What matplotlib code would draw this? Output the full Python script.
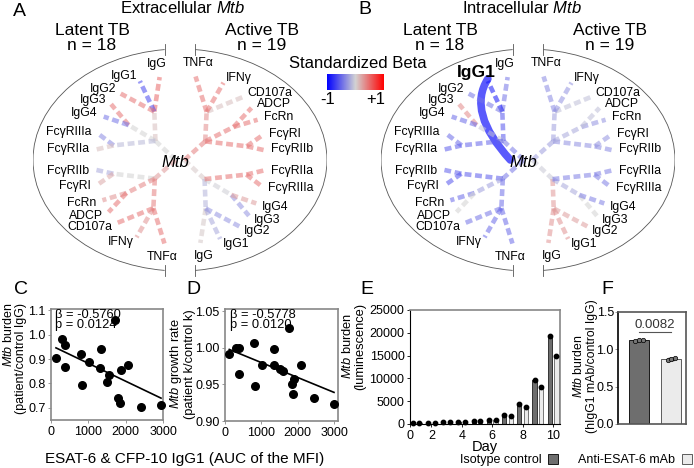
import numpy as np
import matplotlib
matplotlib.use('Agg')
import matplotlib.pyplot as plt
from matplotlib.colors import LinearSegmentedColormap
from matplotlib.patches import Arc, Patch, PathPatch
from matplotlib.path import Path

plt.rcParams['font.family'] = ['Liberation Sans', 'DejaVu Sans']
plt.rcParams['mathtext.fontset'] = 'custom'
plt.rcParams['mathtext.rm'] = 'Liberation Sans'
plt.rcParams['mathtext.it'] = 'Liberation Sans:italic'
plt.rcParams['mathtext.bf'] = 'Liberation Sans:bold'

# ---------------- data ----------------
features = ['IgG', 'IgG1', 'IgG2', 'IgG3', 'IgG4', 'FcγRIIIa', 'FcγRIIa',
            'FcγRIIb', 'FcγRI', 'FcRn', 'ADCP', 'CD107a', 'IFNγ', 'TNFα']
# leaf angles (deg) for the latent half, active half is rotated by 180
leaf_angles = [100.5, 111, 124, 133, 143, 157, 170.5, 189, 201.5, 214.5, 224, 233, 247, 262]

# standardized beta, same order as features
a_latent = [0.5, -0.65, 0.45, 0.45, -0.45, -0.35, 0.1, -0.2, 0.2, 0.3, 0.45, 0.45, 0.3, 0.45]
a_active = [0.05, -0.2, -0.3, -0.3, 0.25, 0.45, 0.45, 0.45, 0.45, 0.45, 0.45, 0.1, 0.45, 0.45]
b_latent = [-0.45, -0.9, -0.45, 0.35, -0.5, -0.5, -0.55, -0.55, -0.6, -0.5, 0.0, -0.45, -0.5, -0.5]
b_active = [0.3, 0.3, 0.25, 0.0, -0.4, -0.4, -0.4, -0.35, -0.3, -0.3, -0.1, -0.1, -0.3, -0.35]
b_sig = ['IgG1']

# C / D scatter
c_x = [133, 302, 382, 382, 799, 817, 1021, 1332, 1323, 1554, 1491, 1722, 1802, 1855, 1882, 2068, 2414, 2947]
c_y = [0.904, 0.981, 0.959, 0.868, 0.921, 0.792, 0.888, 0.943, 0.863, 0.836, 0.807, 1.058, 0.741, 0.718, 0.855, 0.877, 0.703, 0.710]
d_x = [118, 300, 391, 382, 800, 827, 1027, 1345, 1345, 1518, 1591, 1764, 1836, 1882, 1909, 2091, 2436, 3000]
d_y = [0.992, 1.000, 0.9996, 0.964, 1.0065, 0.948, 0.977, 0.998, 0.976, 0.971, 0.968, 1.027, 0.950, 0.937, 0.957, 0.977, 0.932, 0.923]

# E growth curve
days = [1, 2, 3, 4, 5, 6, 7, 8, 9, 10]
iso = [250, 300, 350, 420, 650, 950, 2000, 4450, 9700, 19200]
anti = [250, 300, 350, 400, 600, 880, 1750, 3650, 8100, 14950]

# F
f_iso = [1.11, 1.12, 1.13]
f_anti = [0.86, 0.87, 0.88]

dark = '#6e6e6e'
light = '#ebebeb'
cmap = LinearSegmentedColormap.from_list('beta', ['#0000ff', '#d3d3d3', '#ff0000'])

W, H = 694, 468
fig = plt.figure(figsize=(W / 100, H / 100), dpi=100)


def px_axes(x0, y0, x1, y1):
    return fig.add_axes([x0 / W, 1 - y1 / H, (x1 - x0) / W, (y1 - y0) / H])


def fx(x):
    return x / W


def fy(y):
    return 1 - y / H


def col(b):
    return cmap((b + 1) / 2)


groups = [[0, 1, 2], [3, 4], [5, 6], [7, 8], [9, 10], [11, 12, 13]]
halves = [[0, 1, 2], [3, 4, 5]]


def pol(r, a):
    t = np.deg2rad(a)
    return r * np.cos(t), r * np.sin(t)


def draw_side(ax, betas, rot, sig):
    angs = [a + rot for a in leaf_angles]
    dash = dict(ls=(0, (1.5, 0.8)), lw=3.3, alpha=0.55, dash_capstyle='butt')
    for hv in halves:
        idx = [i for g in hv for i in groups[g]]
        ha_ang = np.mean([angs[i] for i in idx])
        hx, hy = pol(0.24, ha_ang)
        ax.plot([0.03 * np.sign(hx), hx], [0, hy], color=col(np.mean([betas[i] for i in idx])), **dash)
        for g in hv:
            ga = np.mean([angs[i] for i in groups[g]])
            gx, gy = pol(0.47, ga)
            ax.plot([hx, gx], [hy, gy], color=col(np.mean([betas[i] for i in groups[g]])), **dash)
            for i in groups[g]:
                a = angs[i]
                s, c = np.sin(np.deg2rad(a)), np.cos(np.deg2rad(a))
                if abs(c) < 0.2:
                    r_lab, r_end, ha = 0.88, 0.76, 'center'
                else:
                    r_lab = 0.62 + 0.22 * s ** 2
                    r_end = r_lab - 0.05
                    ha = 'right' if c < 0 else 'left'
                lx, ly = pol(r_end, a)
                ax.plot([gx, lx], [gy, ly], color=col(betas[i]), **dash)
                tx, ty = pol(r_lab, a)
                if features[i] in sig:
                    # smooth emphasised path from the centre to the leaf
                    cx, cy = pol(0.6, ha_ang)
                    p = Path([(-0.12, 0), (cx, cy), (lx, ly + 0.02)],
                             [Path.MOVETO, Path.CURVE3, Path.CURVE3])
                    ax.add_patch(PathPatch(p, fc='none', ec=col(betas[i]), lw=5.5, alpha=0.7,
                                           capstyle='round'))
                    ax.text(tx + 0.07, ty + 0.03, features[i], ha=ha, va='center',
                            fontsize=12.5, fontweight='bold')
                else:
                    ax.text(tx, ty, features[i], ha=ha, va='center', fontsize=8.8)


def draw_network(box, latent, active, sig, title, tx):
    ax = px_axes(*box)
    ax.set_xlim(-1, 1)
    ax.set_ylim(-1, 1)
    ax.axis('off')
    ax.add_patch(Arc((0, 0), 2, 2, theta1=96, theta2=264, lw=0.6, color='#555555'))
    ax.add_patch(Arc((0, 0), 2, 2, theta1=-84, theta2=84, lw=0.6, color='#555555'))
    for a in [96, 264, 84, -84]:
        x, y = pol(1, a)
        ax.plot([x, x], [y - 0.05, y + 0.05], color='#555555', lw=0.6, clip_on=False)
    draw_side(ax, latent, 0, sig)
    draw_side(ax, active, -180, [])
    ax.text(-0.03, -0.02, 'Mtb', style='italic', fontsize=12, ha='center', va='center')
    fig.text(fx(tx), fy(8), title, ha='center', va='center', fontsize=12)
    cx = (box[0] + box[2]) / 2
    fig.text(fx(cx - 88), fy(38), 'Latent TB\nn = 18', ha='center', va='center',
             fontsize=12.5, linespacing=0.95)
    fig.text(fx(cx + 82), fy(38), 'Active TB\nn = 19', ha='center', va='center',
             fontsize=12.5, linespacing=0.95)


draw_network((33, 49, 327, 271), a_latent, a_active, [], r'Extracellular $\mathit{Mtb}$', 183)
draw_network((381, 49, 675, 271), b_latent, b_active, b_sig, r'Intracellular $\mathit{Mtb}$', 522)

# colorbar
cax = px_axes(327, 74, 384, 90)
cax.imshow(np.linspace(-1, 1, 256)[None, :], aspect='auto', cmap=cmap, vmin=-1, vmax=1)
cax.axis('off')
fig.text(fx(358), fy(64), 'Standardized Beta', ha='center', va='center', fontsize=12)
fig.text(fx(328), fy(99), '-1', ha='center', va='center', fontsize=12)
fig.text(fx(376), fy(99), '+1', ha='center', va='center', fontsize=12)


def style_box(ax, edge='#888888'):
    for s in ax.spines.values():
        s.set_color(edge)
        s.set_linewidth(1.2)
    ax.tick_params(labelsize=9, length=2, width=0.6, color='#888888', pad=2)


# C
ax = px_axes(51, 309, 163, 420)
ax.scatter(c_x, c_y, s=30, color='k', clip_on=False, zorder=3)
k, b0 = np.polyfit(c_x, c_y, 1)
xx = np.array([min(c_x), max(c_x)])
ax.plot(xx, k * xx + b0, color='k', lw=1.2)
ax.set_xlim(0, 3000)
ax.set_ylim(0.65, 1.105)
ax.set_xticks([0, 1000, 2000, 3000])
ax.set_yticks([0.7, 0.8, 0.9, 1.0, 1.1])
ax.set_yticklabels(['0.7', '0.8', '0.9', '1.0', '1.1'])
style_box(ax)
ax.text(0.04, 1.0, 'β = -0.5760\np = 0.0124', transform=ax.transAxes, ha='left', va='top',
        fontsize=9.3, linespacing=0.8)
fig.text(fx(15), fy(358), r'$\mathit{Mtb}$ burden' + '\n(patient/control IgG)', rotation=90,
         ha='center', va='center', fontsize=9, multialignment='right', linespacing=1.0)

# D
ax = px_axes(225, 309, 338, 421)
ax.scatter(d_x, d_y, s=30, color='k', clip_on=False, zorder=3)
k, b0 = np.polyfit(d_x, d_y, 1)
xx = np.array([min(d_x), max(d_x)])
ax.plot(xx, k * xx + b0, color='k', lw=1.2)
ax.set_xlim(0, 3110)
ax.set_ylim(0.9, 1.053)
ax.set_xticks([0, 1000, 2000, 3000])
ax.set_yticks([0.90, 0.95, 1.00, 1.05])
ax.set_yticklabels(['0.90', '0.95', '1.00', '1.05'])
style_box(ax)
ax.text(0.04, 1.0, 'β = -0.5778\np = 0.0120', transform=ax.transAxes, ha='left', va='top',
        fontsize=9.3, linespacing=0.8)
fig.text(fx(182), fy(364), r'$\mathit{Mtb}$ growth rate' + '\n(patient k/control k)', rotation=90,
         ha='center', va='center', fontsize=9.3, linespacing=1.0)

fig.text(fx(185), fy(459), 'ESAT-6 & CFP-10 IgG1 (AUC of the MFI)', ha='center', va='center',
         fontsize=11)

# E
ax = px_axes(410, 310, 560, 424)
d = np.array(days)
ax.bar(d - 0.22, iso, width=0.28, color=dark, edgecolor='k', lw=0.5)
ax.bar(d + 0.22, anti, width=0.28, color=light, edgecolor='#444444', lw=0.5)
ax.scatter(d - 0.22, iso, s=10, color='k', zorder=3, clip_on=False)
ax.scatter(d + 0.22, anti, s=10, color='k', zorder=3, clip_on=False)
ax.set_xlim(0.6, 10.45)
ax.set_ylim(0, 25000)
ax.set_xticks([0.6, 2, 4, 6, 8, 10])
ax.set_xticklabels(['0', '2', '4', '6', '8', '10'])
ax.set_yticks([0, 5000, 10000, 15000, 20000, 25000])
style_box(ax)
ax.spines['left'].set_color('k')
ax.spines['bottom'].set_color('k')
ax.spines['left'].set_linewidth(0.8)
ax.spines['bottom'].set_linewidth(0.8)
ax.tick_params(color='k')
ax.set_xlabel('Day', fontsize=10.5, labelpad=-1)
fig.text(fx(354), fy(346), r'$\mathit{Mtb}$ burden' + '\n(luminescence)', rotation=90,
         ha='center', va='center', fontsize=9.3, linespacing=1.0)

# F
ax = px_axes(618, 312, 686, 424)
ax.bar([0], [np.mean(f_iso)], width=0.62, color=dark, edgecolor='k', lw=0.6)
ax.bar([1], [np.mean(f_anti)], width=0.62, color=light, edgecolor='#444444', lw=0.6)
ax.errorbar([0, 1], [np.mean(f_iso), np.mean(f_anti)], yerr=[np.std(f_iso), np.std(f_anti)],
            fmt='none', ecolor='k', capsize=2, lw=0.6)
off = np.array([-0.12, 0.0, 0.12])
ax.scatter(off, f_iso, s=10, facecolor='#777777', edgecolor='k', lw=0.5, zorder=3)
ax.scatter(1 + off, f_anti, s=10, facecolor='#777777', edgecolor='k', lw=0.5, zorder=3)
ax.plot([0, 1], [1.23, 1.23], color='#555555', lw=0.8)
ax.text(0.5, 1.245, '0.0082', ha='center', va='bottom', fontsize=9.5, color='#333333')
ax.set_xlim(-0.65, 1.45)
ax.set_ylim(0, 1.5)
ax.set_xticks([])
ax.set_yticks([0, 0.5, 1.0, 1.5])
ax.set_yticklabels(['0.0', '0.5', '1.0', '1.5'])
style_box(ax, edge='#555555')
ax.spines['left'].set_color('k')
ax.tick_params(pad=1)
fig.text(fx(585), fy(366), r'$\mathit{Mtb}$ burden' + '\n(hIgG1 mAb/control IgG)', rotation=90,
         ha='center', va='center', fontsize=8.8, linespacing=1.0)

handles = [Patch(facecolor=dark, edgecolor='k', lw=0.6),
           Patch(facecolor=light, edgecolor='#444444', lw=0.6)]
fig.legend(handles, ['Isotype control', 'Anti-ESAT-6 mAb'], ncol=2, markerfirst=False,
           frameon=False, loc='center', bbox_to_anchor=(fx(576), fy(460)), fontsize=9,
           handlelength=0.8, handleheight=0.8, columnspacing=1.6, handletextpad=0.5)

# panel letters
for letter, x, y in [('A', 19, 11), ('B', 365, 9), ('C', 21, 289), ('D', 193, 289),
                     ('E', 367, 289), ('F', 607, 290)]:
    fig.text(fx(x), fy(y), letter, ha='center', va='center', fontsize=14)

fig.savefig('out.png', dpi=100)
